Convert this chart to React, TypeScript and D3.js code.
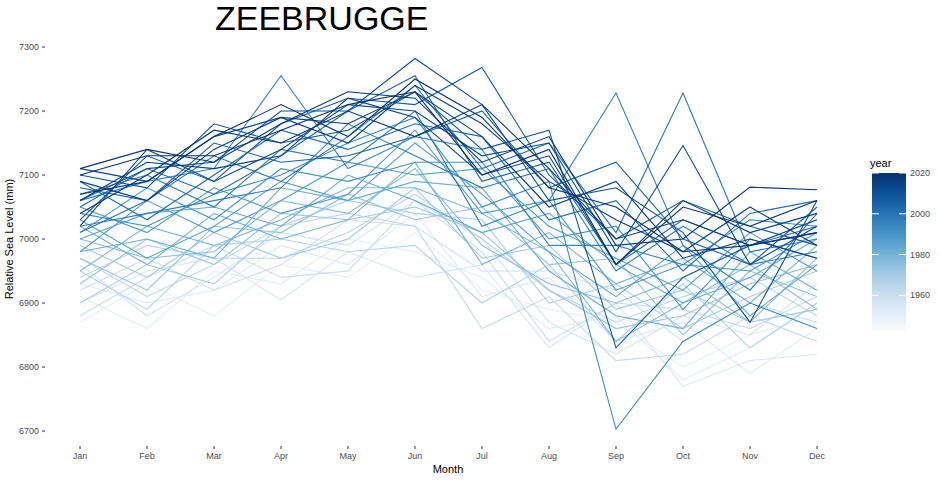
import { useEffect, useRef } from 'react'
import * as d3 from 'd3'

const months = ['Jan', 'Feb', 'Mar', 'Apr', 'May', 'Jun', 'Jul', 'Aug', 'Sep', 'Oct', 'Nov', 'Dec']
const yTicks = [6700, 6800, 6900, 7000, 7100, 7200, 7300]
const legendTicks = [1960, 1980, 2000, 2020]

const years = [
  1944, 1946, 1948, 1950, 1952, 1954, 1956, 1958, 1960, 1962,
  1964, 1966, 1968, 1970, 1972, 1974, 1976, 1978, 1980, 1982,
  1984, 1986, 1988, 1990, 1992, 1994, 1996, 1998, 2000, 2002,
  2004, 2006, 2008, 2010, 2012, 2014, 2015, 2016, 2017, 2018, 2019, 2020
]

const levels = [
  [6870, 6930, 6880, 6960, 6940, 7010, 6920, 6890, 6870, 6800, 6850, 6880],
  [6910, 6860, 6950, 6930, 7000, 6980, 6940, 6860, 6880, 6780, 6830, 6900],
  [6930, 6900, 6920, 6990, 6960, 7040, 6910, 6940, 6840, 6870, 6790, 6860],
  [6900, 6950, 6970, 6905, 6980, 6940, 6960, 6830, 6900, 6770, 6810, 6820],
  [6960, 6880, 6940, 7010, 6990, 7060, 7000, 6870, 6820, 6880, 6850, 6930],
  [6920, 6970, 6920, 6960, 7030, 7020, 6950, 6950, 6920, 6840, 6900, 6870],
  [6880, 6940, 6990, 6940, 6950, 7060, 6980, 6840, 6900, 6890, 6860, 6910],
  [6970, 6910, 6960, 7020, 7040, 7020, 6860, 6910, 6810, 6820, 6880, 6840],
  [6940, 6990, 6970, 6970, 7010, 7070, 7000, 6920, 6870, 6910, 6940, 6880],
  [6950, 6890, 6990, 7000, 6980, 6990, 6900, 6960, 6840, 6930, 6830, 6900],
  [6900, 6960, 6930, 7020, 7060, 7040, 7030, 6900, 6930, 6860, 6910, 6950],
  [6990, 6940, 7010, 6970, 7000, 7080, 6970, 6990, 6890, 6920, 6870, 6890],
  [6930, 7000, 6960, 7040, 7030, 7050, 7010, 6920, 6860, 6880, 6930, 6960],
  [6970, 6920, 7020, 7010, 7070, 7030, 7050, 6960, 6970, 6850, 6950, 6910],
  [7000, 6970, 6980, 7060, 7040, 7110, 6990, 6930, 6900, 6940, 6870, 6970],
  [6950, 7020, 6990, 7030, 7080, 7080, 7040, 6980, 6840, 6900, 6960, 6890],
  [7020, 6960, 7040, 7000, 7030, 7120, 6960, 7010, 6930, 6970, 6900, 6990],
  [6980, 7000, 6970, 7080, 7060, 7090, 7080, 6950, 6880, 6860, 6980, 6920],
  [7000, 7040, 7050, 7020, 7100, 7060, 7010, 7040, 6960, 6900, 6940, 7000],
  [7030, 6970, 7020, 7090, 7060, 7150, 7070, 6980, 6910, 6990, 6880, 6960],
  [6980, 7060, 7010, 7060, 7120, 7100, 7110, 7020, 6970, 6920, 7010, 6950],
  [7050, 7010, 7080, 7040, 7070, 7170, 7040, 7060, 6920, 6960, 6950, 7010],
  [7010, 7080, 7030, 7110, 7090, 7120, 7120, 7000, 7020, 6890, 7000, 6970],
  [7040, 7020, 7070, 7100, 7150, 7190, 7050, 7090, 6703, 6840, 6900, 6860],
  [7060, 7090, 7110, 7255, 7110, 7160, 7140, 6990, 6990, 6960, 7030, 7020],
  [7020, 7040, 7060, 7080, 7180, 7130, 7080, 7110, 6950, 7020, 6960, 6980],
  [7070, 7100, 7050, 7140, 7120, 7200, 7020, 7060, 7228, 6990, 6920, 7040],
  [7010, 7060, 7130, 7090, 7160, 7240, 7110, 7150, 7010, 7228, 6980, 7000],
  [7090, 7030, 7100, 7170, 7140, 7180, 7160, 7030, 7060, 6950, 7040, 7060],
  [7050, 7110, 7070, 7130, 7200, 7255, 7090, 7120, 6960, 7030, 6990, 7020],
  [7080, 7060, 7150, 7120, 7130, 7160, 7200, 7080, 7120, 7000, 6960, 7050],
  [7030, 7130, 7090, 7180, 7220, 7210, 7268, 7100, 7000, 7060, 7020, 6990],
  [7100, 7080, 7180, 7150, 7170, 7230, 7140, 7170, 6830, 6940, 6990, 7010],
  [7060, 7110, 7120, 7200, 7200, 7282, 7210, 7060, 7080, 7010, 6870, 7060],
  [7020, 7140, 7090, 7140, 7210, 7200, 7130, 7150, 6980, 7146, 6960, 7020],
  [7110, 7090, 7160, 7190, 7150, 7240, 7180, 7090, 7030, 6980, 7050, 6990],
  [7060, 7120, 7110, 7130, 7220, 7190, 7100, 7130, 6960, 7060, 7010, 7040],
  [7090, 7060, 7140, 7190, 7180, 7230, 7160, 7050, 7090, 6970, 7000, 6970],
  [7040, 7100, 7170, 7150, 7200, 7160, 7210, 7110, 7000, 7030, 6990, 7030],
  [7110, 7140, 7120, 7180, 7230, 7220, 7120, 7160, 6990, 7000, 7081, 7077],
  [7070, 7090, 7160, 7210, 7160, 7250, 7190, 7080, 7050, 6980, 6990, 7010],
  [7100, 7130, 7130, 7170, 7210, 7230, 7100, 7140, 6960, 7050, 7020, 7060]
]

export default function App() {
  const svgRef = useRef<SVGSVGElement>(null)

  useEffect(() => {
    if (!svgRef.current) return
    const svg = d3.select(svgRef.current)
    svg.selectAll('*').remove()

    const font = 'Liberation Sans, Arial, sans-serif'
    const x = d3.scalePoint<string>().domain(months).range([80, 817])
    const y = d3.scaleLinear().domain([6700, 7300]).range([431, 47])
    const blues = (t: number) => d3.interpolateBlues(0.08 + t * 0.92)
    const color = d3.scaleSequential(blues).domain([1943, 2020])

    const line = d3.line<number>()
      .x((_, i) => x(months[i])!)
      .y(d => y(d))

    svg.append('g')
      .selectAll('path')
      .data(levels)
      .enter()
      .append('path')
      .attr('d', d => line(d))
      .attr('fill', 'none')
      .attr('stroke', (_, i) => color(years[i]))
      .attr('stroke-width', 1.1)

    // y axis
    const ya = svg.append('g')
    yTicks.forEach(t => {
      ya.append('line').attr('x1', 42).attr('x2', 45).attr('y1', y(t)).attr('y2', y(t)).attr('stroke', '#333')
      ya.append('text').attr('x', 39).attr('y', y(t)).attr('dy', '0.35em').attr('text-anchor', 'end')
        .attr('font-size', 9).attr('font-family', font).attr('fill', '#4d4d4d').text(t)
    })
    // x axis
    const xa = svg.append('g')
    months.forEach(m => {
      xa.append('line').attr('x1', x(m)!).attr('x2', x(m)!).attr('y1', 446).attr('y2', 449).attr('stroke', '#333')
      xa.append('text').attr('x', x(m)!).attr('y', 459).attr('text-anchor', 'middle')
        .attr('font-size', 9).attr('font-family', font).attr('fill', '#4d4d4d').text(m)
    })

    svg.append('text').attr('x', 448).attr('y', 473).attr('text-anchor', 'middle')
      .attr('font-size', 11).attr('font-family', font).text('Month')
    svg.append('text').attr('transform', 'translate(13,239) rotate(-90)').attr('text-anchor', 'middle')
      .attr('font-size', 11).attr('font-family', font).text('Relative Sea Level (mm)')
    svg.append('text').attr('x', 215).attr('y', 30).attr('font-size', 34).attr('font-family', font).text('ZEEBRUGGE')

    // legend
    const defs = svg.append('defs')
    const grad = defs.append('linearGradient').attr('id', 'yg').attr('x1', '0%').attr('y1', '100%').attr('x2', '0%').attr('y2', '0%')
    d3.range(0, 1.01, 0.1).forEach(o => {
      grad.append('stop').attr('offset', `${o * 100}%`).attr('stop-color', d3.interpolateBlues(o))
    })
    const ly = d3.scaleLinear().domain([1943, 2020]).range([330, 173])
    svg.append('rect').attr('x', 872).attr('y', 173).attr('width', 34).attr('height', 157).attr('fill', 'url(#yg)')
    svg.append('text').attr('x', 870).attr('y', 167).attr('font-size', 11).attr('font-family', font).text('year')
    legendTicks.forEach(t => {
      svg.append('line').attr('x1', 872).attr('x2', 879).attr('y1', ly(t)).attr('y2', ly(t)).attr('stroke', 'white')
      svg.append('line').attr('x1', 899).attr('x2', 906).attr('y1', ly(t)).attr('y2', ly(t)).attr('stroke', 'white')
      svg.append('text').attr('x', 910).attr('y', ly(t)).attr('dy', '0.35em').attr('font-size', 9)
        .attr('font-family', font).attr('fill', '#4d4d4d').text(t)
    })
  }, [])

  return <svg ref={svgRef} width={940} height={480} style={{ position: 'absolute', left: 0, top: 0 }} />
}
